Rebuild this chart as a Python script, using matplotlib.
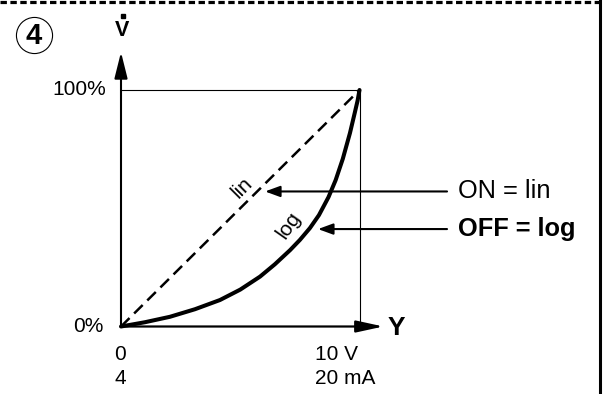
import numpy as np
import matplotlib
matplotlib.use('Agg')
import matplotlib.pyplot as plt
from matplotlib.lines import Line2D

plt.rcParams['font.family'] = ['Liberation Sans', 'DejaVu Sans']

# valve opening (percent of signal Y) vs flow (percent of V dot)
lin_x = [0, 100]
lin_y = [0, 100]
log_x = [0, 10.0, 20.5, 31.0, 41.5, 50.0, 58.3, 64.5, 70.9, 75.0, 79.2, 83.0, 87.0, 90.0, 93.0, 96.0, 98.0, 99.2, 100]
log_y = [0, 1.8, 4.1, 7.3, 11.2, 15.6, 21.1, 26.3, 32.3, 36.6, 41.6, 47.1, 54.7, 61.9, 70.9, 81.8, 90.3, 95.5, 100]

y_ticks = [0, 100]
y_ticklabels = ['0%', '100%']
x_ticks = [0, 100]
x_ticklabels = [('0', '4'), ('10 V', '20 mA')]
switch_labels = ['ON = lin', 'OFF = log']
switch_y = [57.1, 41.2]
switch_tip = [60.4, 82.6]

fig = plt.figure(figsize=(6.05, 3.94), dpi=100)
ax = fig.add_axes([121 / 605, (394 - 326.5) / 394, 238.5 / 605, 236.5 / 394])
ax.set_xlim(0, 100)
ax.set_ylim(0, 100)
ax.axis('off')

# axes with arrows
ax.annotate('', xy=(0, 116), xytext=(0, 0), annotation_clip=False,
            arrowprops=dict(arrowstyle='-|>,head_length=1.6,head_width=0.4',
                            lw=1.5, color='k', shrinkA=0, shrinkB=0))
ax.annotate('', xy=(110, 0), xytext=(0, 0), annotation_clip=False,
            arrowprops=dict(arrowstyle='-|>,head_length=1.65,head_width=0.36',
                            lw=1.6, color='k', shrinkA=0, shrinkB=0))

# thin guide lines at 100%
ax.plot([0, x_ticks[1]], [y_ticks[1], y_ticks[1]], color='k', lw=0.8, clip_on=False)
ax.plot([x_ticks[1], x_ticks[1]], [0, y_ticks[1]], color='k', lw=0.8, clip_on=False)

# curves
ax.plot(lin_x, lin_y, color='k', lw=1.8, dashes=(4.8, 2.6), clip_on=False)
ax.plot(log_x, log_y, color='k', lw=2.9, solid_capstyle='round',
        solid_joinstyle='round', clip_on=False)

ax.text(51.0, 58.8, 'lin', rotation=45, fontsize=15, ha='center', va='center')
ax.text(70.2, 43.0, 'log', rotation=55, fontsize=15, ha='center', va='center')

# switch arrows and labels
for i, lab in enumerate(switch_labels):
    ax.annotate('', xy=(switch_tip[i], switch_y[i]), xytext=(136.7, switch_y[i]),
                annotation_clip=False,
                arrowprops=dict(arrowstyle='-|>,head_length=0.9,head_width=0.33',
                                lw=1.5, color='k', shrinkA=0, shrinkB=0))
    ax.text(141.3, switch_y[i], lab, fontsize=18.3, ha='left', va='center',
            fontweight='bold' if i == 1 else 'normal')

# tick labels
ax.text(-7.5, y_ticks[0], y_ticklabels[0], fontsize=15, ha='right', va='center')
ax.text(-6.3, y_ticks[1], y_ticklabels[1], fontsize=15, ha='right', va='center')
for xt, (l1, l2) in zip(x_ticks, x_ticklabels):
    x0 = xt - 2.9 if xt == 0 else xt - 18.7
    ax.text(x0, -12.0, l1, fontsize=15, ha='left', va='center')
    ax.text(x0, -21.8, l2, fontsize=15, ha='left', va='center')

# axis titles
ax.text(115.3, -0.6, 'Y', fontsize=19, fontweight='bold', ha='center', va='center')
ax.text(0.4, 125.0, 'V', fontsize=15.5, fontweight='bold', ha='center', va='center')
ax.plot([0.8], [131.2], marker='s', ms=2.6, color='k', clip_on=False)

# circled number
ax.plot([-36.5], [123.3], marker='o', ms=26, mfc='none', mec='k', mew=0.8, clip_on=False)
ax.text(-36.5, 123.0, '4', fontsize=21, fontweight='bold', ha='center', va='center')

# frame: dotted top, solid right
fig.add_artist(Line2D([0, 599 / 605], [1 - 1.5 / 394, 1 - 1.5 / 394], transform=fig.transFigure,
                      color='k', lw=2.3, dashes=(2.0, 1.1)))
fig.add_artist(Line2D([599.5 / 605, 599.5 / 605], [0, 1], transform=fig.transFigure,
                      color='k', lw=2.2))

fig.savefig('out.png', dpi=100)
